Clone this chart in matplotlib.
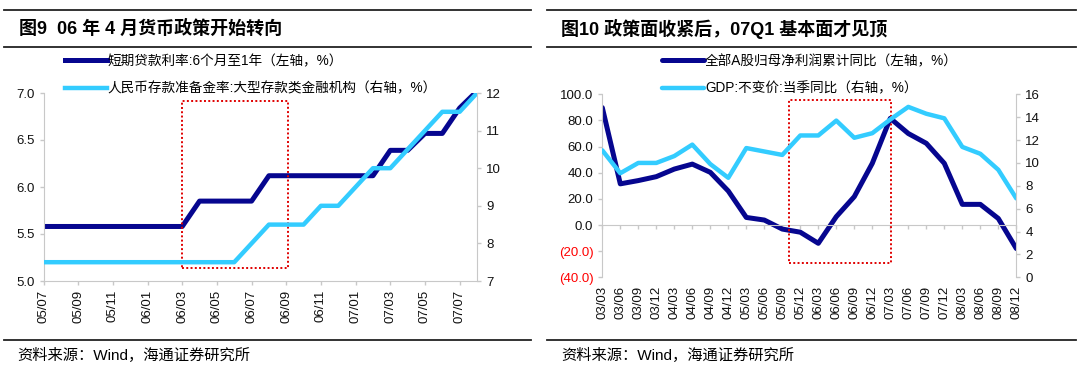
import matplotlib
matplotlib.use("Agg")
import matplotlib.pyplot as plt
from matplotlib.lines import Line2D
from matplotlib.patches import Rectangle

plt.rcParams['font.family'] = ['Liberation Sans', 'Noto Sans CJK SC']
plt.rcParams['axes.unicode_minus'] = False

# ---- left chart data: monthly, 05/07 .. 07/08
months = ['05/07', '05/08', '05/09', '05/10', '05/11', '05/12', '06/01', '06/02',
          '06/03', '06/04', '06/05', '06/06', '06/07', '06/08', '06/09', '06/10',
          '06/11', '06/12', '07/01', '07/02', '07/03', '07/04', '07/05', '07/06',
          '07/07', '07/08']
loan_rate = [5.58, 5.58, 5.58, 5.58, 5.58, 5.58, 5.58, 5.58, 5.58, 5.85, 5.85, 5.85,
             5.85, 6.12, 6.12, 6.12, 6.12, 6.12, 6.12, 6.12, 6.39, 6.39, 6.57, 6.57,
             6.84, 7.02]
rrr = [7.5, 7.5, 7.5, 7.5, 7.5, 7.5, 7.5, 7.5, 7.5, 7.5, 7.5, 7.5,
       8.0, 8.5, 8.5, 8.5, 9.0, 9.0, 9.5, 10.0, 10.0, 10.5, 11.0, 11.5,
       11.5, 12.0]
left_ticks = ['05/07', '05/09', '05/11', '06/01', '06/03', '06/05', '06/07',
              '06/09', '06/11', '07/01', '07/03', '07/05', '07/07']

# ---- right chart data: quarterly, 03/03 .. 08/12
quarters = ['03/03', '03/06', '03/09', '03/12', '04/03', '04/06', '04/09', '04/12',
            '05/03', '05/06', '05/09', '05/12', '06/03', '06/06', '06/09', '06/12',
            '07/03', '07/06', '07/09', '07/12', '08/03', '08/06', '08/09', '08/12']
profit_yoy = [89.8, 31.5, 34.0, 37.0, 42.8, 46.6, 40.3, 26.0, 5.8, 3.8, -3.1, -5.5,
              -14.0, 6.4, 21.7, 47.2, 81.6, 70.0, 62.5, 47.2, 15.8, 15.8, 5.0, -18.0]
gdp_yoy = [11.1, 9.1, 10.0, 10.0, 10.6, 11.6, 9.9, 8.7, 11.3, 11.0, 10.7, 12.4,
           12.4, 13.7, 12.2, 12.6, 13.8, 14.9, 14.3, 13.9, 11.4, 10.8, 9.4, 6.9]

DARK = '#06068f'
LIGHT = '#33ccff'
GRID = '#c8c8c8'
W, H = 1080, 368

fig = plt.figure(figsize=(10.8, 3.68), dpi=100)


def fx(px):
    return px / W


def fy(py):
    return 1 - py / H


def hline(x0, x1, y, lw=1.3):
    fig.add_artist(Line2D([fx(x0), fx(x1)], [fy(y), fy(y)], transform=fig.transFigure,
                          color='#222222', lw=lw))


def style(ax, ax2):
    for a in (ax, ax2):
        a.spines['top'].set_visible(False)
        for s in ('left', 'right', 'bottom'):
            a.spines[s].set_color(GRID)
        a.tick_params(colors=GRID, labelcolor='#111111', labelsize=9.5, length=3, width=1)
    ax.spines['right'].set_visible(False)
    ax2.spines['left'].set_visible(False)
    ax2.spines['bottom'].set_visible(False)


def legend(handles, xpx):
    fig.legend(handles, [h.get_label() for h in handles], loc='upper left',
               bbox_to_anchor=(fx(xpx), fy(54)), frameon=False, fontsize=9.8,
               handlelength=3.05, handletextpad=0.1, labelspacing=0.98,
               borderpad=0, borderaxespad=0)


# ---------------- left chart ----------------
ax = fig.add_axes([fx(43.5), fy(281), fx(477 - 43.5), (281 - 93) / H])
ax2 = ax.twinx()
x = list(range(len(months)))
l1, = ax.plot(x, loan_rate, color=DARK, lw=3.6, solid_joinstyle='round',
              label='短期贷款利率:6个月至1年（左轴，%）')
l2, = ax2.plot(x, rrr, color=LIGHT, lw=3.2, solid_joinstyle='round',
               label='人民币存款准备金率:大型存款类金融机构（右轴，%）')
ax.set_xlim(0, len(months) - 1)
ax.set_ylim(5.0, 7.0)
ax2.set_ylim(7, 12)
ax.set_yticks([5.0, 5.5, 6.0, 6.5, 7.0], ['5.0', '5.5', '6.0', '6.5', '7.0'])
ax2.set_yticks([7, 8, 9, 10, 11, 12])
ax.set_xticks([months.index(m) for m in left_ticks], left_ticks, rotation=90)
style(ax, ax2)
ax.add_patch(Rectangle((7.97, 5.14), 14.1 - 7.97, 6.91 - 5.14, fill=False,
                       edgecolor='#e00000', lw=1.4, linestyle=(0, (1, 1.2)), zorder=5))
legend([l1, l2], 65)

# ---------------- right chart ----------------
bx = fig.add_axes([fx(602.3), fy(277.3), fx(1016.3 - 602.3), (277.3 - 94.3) / H])
bx2 = bx.twinx()
q = list(range(len(quarters)))
m1, = bx.plot(q, profit_yoy, color=DARK, lw=3.6, solid_joinstyle='round',
              solid_capstyle='round', label='全部A股归母净利润累计同比（左轴，%）')
m2, = bx2.plot(q, gdp_yoy, color=LIGHT, lw=3.2, solid_joinstyle='round',
               solid_capstyle='round', label='GDP:不变价:当季同比（右轴，%）')
bx.set_xlim(0, len(quarters) - 1)
bx.set_ylim(-40, 100)
bx2.set_ylim(0, 16)
yt = [-40, -20, 0, 20, 40, 60, 80, 100]
bx.set_yticks(yt, ['(%.1f)' % -v if v < 0 else '%.1f' % v for v in yt])
bx2.set_yticks(range(0, 17, 2))
style(bx, bx2)
for v, lab in zip(yt, bx.get_yticklabels()):
    if v < 0:
        lab.set_color('#ff0000')
bx.spines['bottom'].set_position(('data', 0))
bx.set_xticks(q)
bx.tick_params(axis='x', labelbottom=False)
sec = bx.secondary_xaxis(0)
sec.set_xticks(q, quarters, rotation=90)
sec.tick_params(length=0, labelsize=9.5, labelcolor='#111111', pad=6)
sec.spines['bottom'].set_visible(False)
bx.add_patch(Rectangle((10.37, -29.3), 16.04 - 10.37, 95.6 + 29.3, fill=False,
                       edgecolor='#e00000', lw=1.4, linestyle=(0, (1, 1.2)), zorder=5))
legend([m1, m2], 662)

# ---------------- titles, rules, sources ----------------
hline(4, 531, 9.7)
hline(4, 531, 46.5)
hline(4, 531, 340)
hline(547, 1076, 9.7)
hline(547, 1076, 46.5)
hline(547, 1076, 340)
fig.text(fx(19), fy(29), '图9  06 年 4 月货币政策开始转向', fontsize=13,
         fontweight='bold', va='center')
fig.text(fx(561), fy(29), '图10 政策面收紧后，07Q1 基本面才见顶', fontsize=13,
         fontweight='bold', va='center')
fig.text(fx(17), fy(355), '资料来源：Wind，海通证券研究所', fontsize=11, va='center')
fig.text(fx(561), fy(355), '资料来源：Wind，海通证券研究所', fontsize=11, va='center')

fig.savefig('out.png', dpi=100)
